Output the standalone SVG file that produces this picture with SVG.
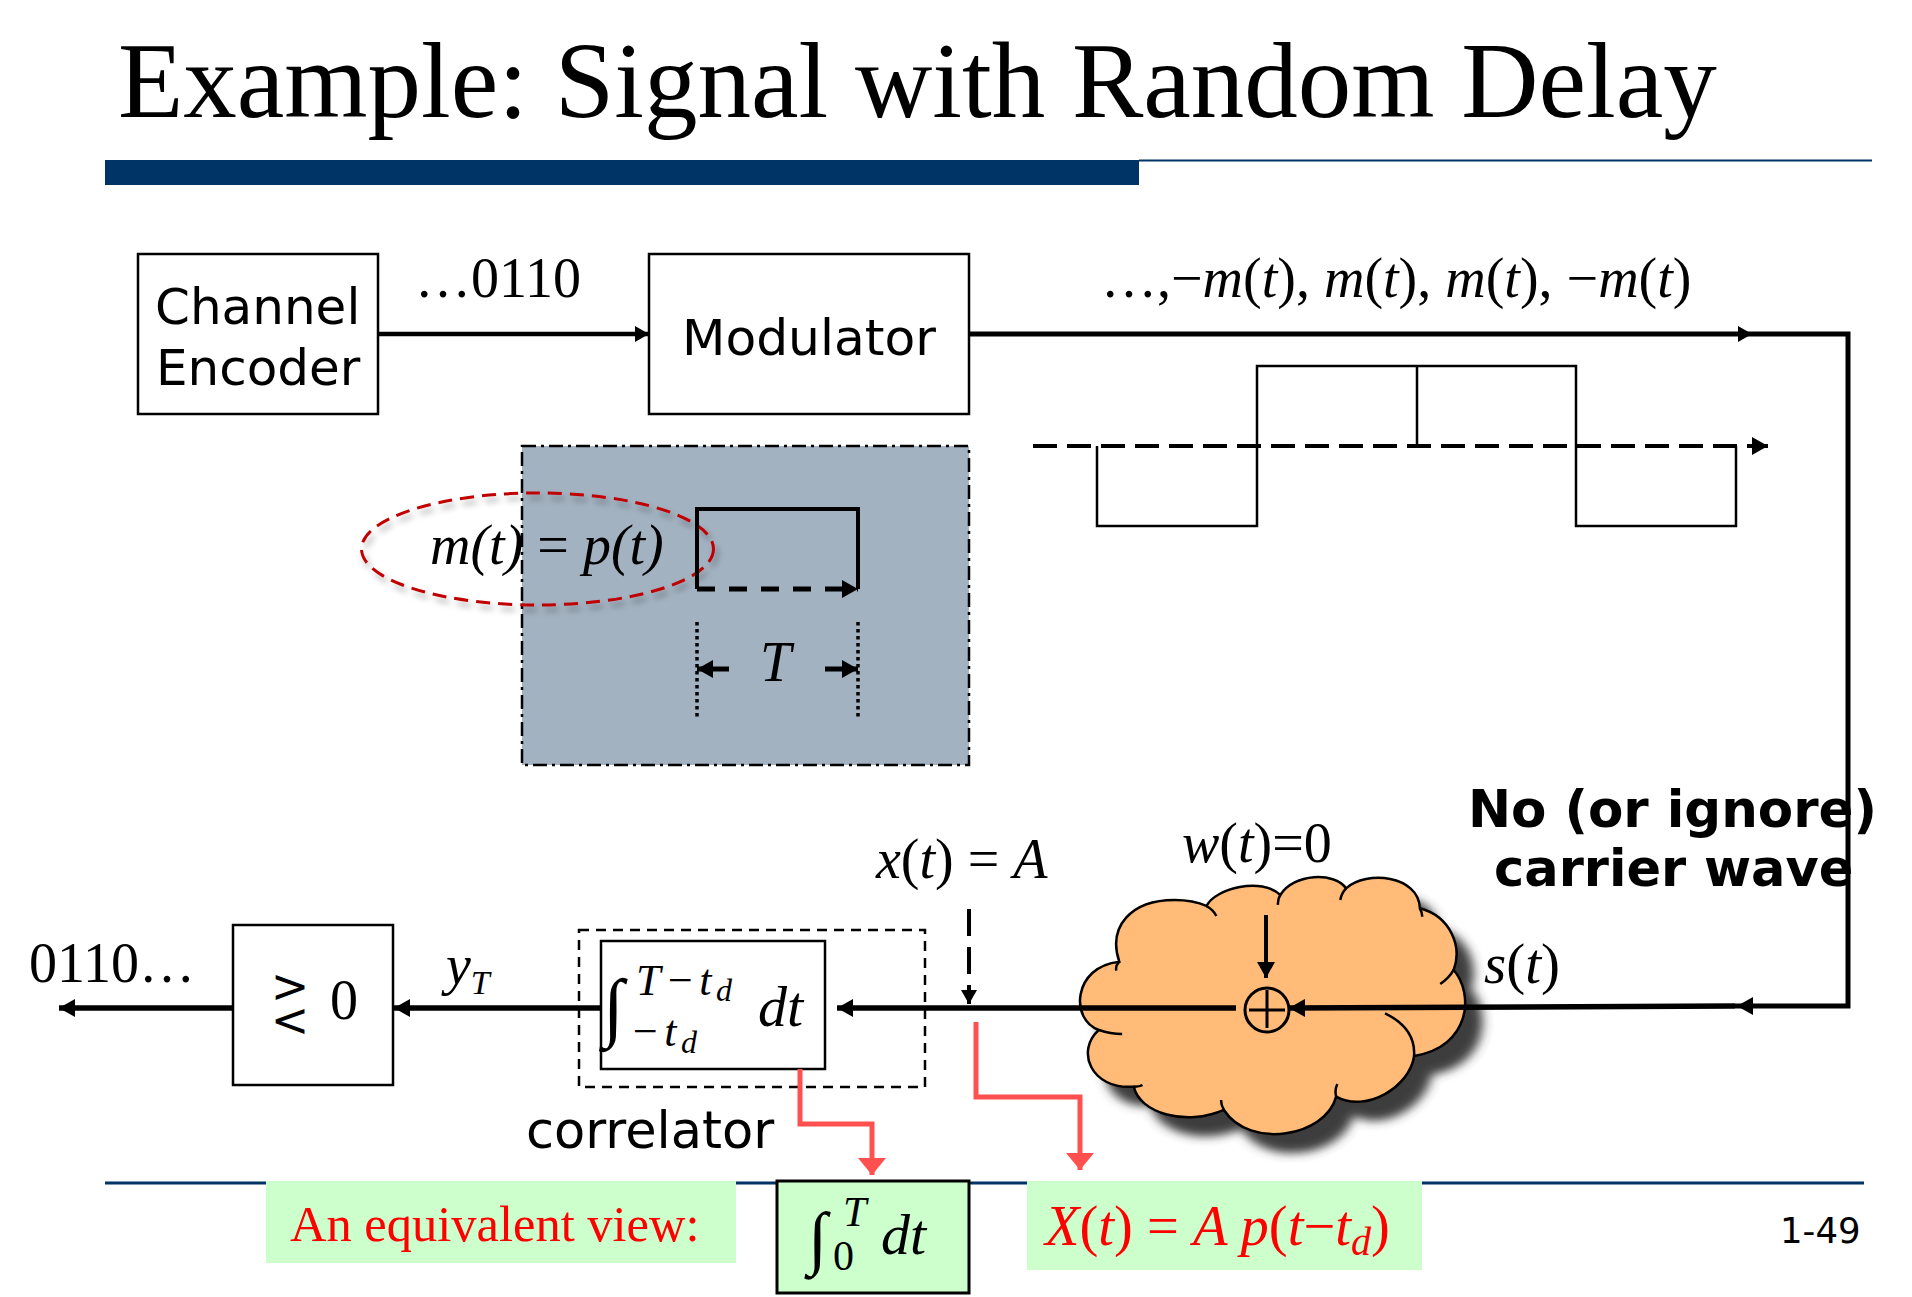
<svg xmlns="http://www.w3.org/2000/svg" width="1912" height="1297" viewBox="0 0 1912 1297">
<style>
text{fill:#000}
.s{font-family:"Liberation Serif","Times New Roman",serif;font-size:56px}
.d{font-family:"DejaVu Sans",Verdana,sans-serif;font-size:50px}
.b{font-family:"DejaVu Sans",Verdana,sans-serif;font-size:51.500px;font-weight:700}
.i{font-style:italic}
.box{fill:#fff;stroke:#000;stroke-width:2.5}
.l{fill:none;stroke:#000;stroke-width:4}
.r{fill:none;stroke:#ff5050;stroke-width:5}
.g{fill:#ccffcc}
.c{fill:none;stroke:#000;stroke-width:2.5;vector-effect:non-scaling-stroke}
</style>
<defs>
<marker id="a" markerUnits="userSpaceOnUse" viewBox="0 0 14 16" refX="14" refY="8" markerWidth="14" markerHeight="16" orient="auto-start-reverse"><path d="M0 0L14 8L0 16z" fill="#000"/></marker>
<marker id="a2" markerUnits="userSpaceOnUse" viewBox="0 0 16 18" refX="16" refY="9" markerWidth="16" markerHeight="18" orient="auto"><path d="M0 0L16 9L0 18z" fill="#000"/></marker>
<marker id="ar" markerUnits="userSpaceOnUse" viewBox="0 0 28 17" refX="14" refY="17" markerWidth="28" markerHeight="17" orient="0"><path d="M0 0H28L14 17z" fill="#ff5050"/></marker>
<filter id="sh" x="-20%" y="-20%" width="150%" height="150%"><feDropShadow dx="30" dy="57" stdDeviation="9 15" flood-color="#333" flood-opacity=".95"/></filter>
<filter id="es" x="-10%" y="-20%" width="120%" height="150%"><feDropShadow dx="3" dy="5" stdDeviation="3" flood-color="#000" flood-opacity=".35"/></filter>
</defs>

<g id="title-slide">
<text x="118" y="117" font-family="Liberation Serif,serif" font-size="107">Example: Signal with Random Delay</text>
<rect x="105" y="160" width="1034" height="25" fill="#003366"/>
<path d="M1139 160.500H1872" stroke="#003366" stroke-width="2"/>
<path d="M105 1183H1864" stroke="#003366" stroke-width="3"/>
<text x="1780" y="1243" class="d" style="font-size:35.500px">1-49</text>
</g>

<g id="signal-panel">
<rect x="522" y="446" width="447" height="319" fill="#a3b2c1" stroke="#000" stroke-width="2.500" stroke-dasharray="14 5 3 5"/>
<ellipse cx="537.500" cy="549" rx="176" ry="56" fill="none" stroke="#c00000" stroke-width="3" stroke-dasharray="14 8" filter="url(#es)"/>
<text x="430" y="564" class="s i">m(t)<tspan font-style="normal"> = </tspan>p(t)</text>
<path d="M697 589V509H858V589" class="l"/>
<path d="M697 589H858" fill="none" stroke="#000" stroke-width="5" stroke-dasharray="18 14" marker-end="url(#a2)"/>
<path d="M697 622V717M858 622V717" fill="none" stroke="#000" stroke-width="3.500" stroke-dasharray="3.500 3.500"/>
<path d="M729 669H697" class="l" style="stroke-width:5" marker-end="url(#a2)"/>
<path d="M825 669H858" class="l" style="stroke-width:5" marker-end="url(#a2)"/>
<text x="760" y="681" class="s i">T</text>
</g>

<g id="connectors">
<path d="M378 334H649" class="l" style="stroke-width:4.500" marker-end="url(#a)"/>
<path d="M969 334H1848V1006H1735" class="l" style="stroke-width:5"/>
<path d="M1740 334H1752" class="l" marker-end="url(#a)"/>
<path d="M1760 1006H1737" class="l" marker-end="url(#a2)"/>
<path d="M233 1008H59" class="l" style="stroke-width:5.500" marker-end="url(#a2)"/>
<path d="M601 1008H394" class="l" style="stroke-width:5.500" marker-end="url(#a2)"/>
</g>

<g id="waveform">
<path d="M1033 446H1768" fill="none" stroke="#000" stroke-width="4" stroke-dasharray="24 10" marker-end="url(#a2)"/>
<path d="M1097 446V526H1257V366H1576V526H1736V446M1417 366V446" fill="none" stroke="#000" stroke-width="2.500"/>
</g>

<g id="channel-encoder">
<rect x="138" y="254" width="240" height="160" class="box"/>
<text x="155" y="324" class="d">Channel</text>
<text x="156" y="385" class="d">Encoder</text>
</g>
<g id="modulator">
<rect x="649" y="254" width="320" height="160" class="box"/>
<text x="682" y="355" class="d" style="font-size:50.300px">Modulator</text>
</g>
<g id="labels">
<text x="415" y="297" class="s">…0110</text>
<text x="1101" y="297" class="s">…,−<tspan class="i">m</tspan>(<tspan class="i">t</tspan>), <tspan class="i">m</tspan>(<tspan class="i">t</tspan>), <tspan class="i">m</tspan>(<tspan class="i">t</tspan>), −<tspan class="i">m</tspan>(<tspan class="i">t</tspan>)</text>
<text x="29" y="982" class="s">0110…</text>
<text x="446" y="984" class="s i">y<tspan font-size="34" dy="10">T</tspan></text>
<text x="526" y="1148" class="d" style="font-size:51px">correlator</text>
<text x="876" y="878" class="s"><tspan class="i">x</tspan>(<tspan class="i">t</tspan>) = <tspan class="i">A</tspan></text>
<text x="1182" y="862" class="s"><tspan class="i">w</tspan>(<tspan class="i">t</tspan>)=0</text>
<text x="1484" y="983" class="s" style="font-size:57px"><tspan class="i">s</tspan>(<tspan class="i">t</tspan>)</text>
<text x="1468" y="827" class="b">No (or ignore)</text>
<text x="1494" y="886" class="b" style="font-size:51px">carrier wave</text>
</g>

<g id="noise-cloud">
<g transform="translate(1000 780) scale(.5816 .3333)">
<path filter="url(#sh)" d="M205 545C185 440 225 360 300 360C325 360 345 370 355 378C370 325 450 290 482 345C505 280 575 275 595 325C630 270 720 285 722 385C775 410 795 500 780 570C815 640 810 800 712 828C705 920 630 1000 578 950C560 1070 430 1110 385 990C320 1040 240 1000 230 920C155 930 130 810 170 750C120 720 125 560 205 545Z" fill="#ffbb77"/>
<path class="c" d="M205 545C185 440 225 360 300 360C325 360 345 370 355 378C370 325 450 290 482 345C505 280 575 275 595 325C630 270 720 285 722 385C775 410 795 500 780 570C815 640 810 800 712 828C705 920 630 1000 578 950C560 1070 430 1110 385 990C320 1040 240 1000 230 920C155 930 130 810 170 750C120 720 125 560 205 545Z"/>
<path class="c" d="M355 378Q367 390 372 408M482 345Q477 358 478 375M595 325Q587 340 585 360M722 385Q726 398 726 410M780 570Q772 595 757 612M662 700Q715 745 712 828M578 950Q575 930 580 912M385 990Q380 975 380 960M230 920Q240 920 245 915M170 750Q190 762 210 762M205 545Q198 558 200 572"/>
</g>
</g>

<g id="decision">
<rect x="233" y="925" width="160" height="160" class="box"/>
<text x="330" y="1019" class="s">0</text>
<text text-anchor="middle" font-family="DejaVu Sans,sans-serif" font-size="46"><tspan x="290" y="1002">&gt;</tspan><tspan x="290" y="1036">&lt;</tspan></text>
</g>

<g id="correlator">
<rect x="579" y="930" width="346" height="157" fill="none" stroke="#000" stroke-width="2.500" stroke-dasharray="10 7"/>
<rect x="601" y="941" width="224" height="128" class="box"/>
<text x="603" y="1032" font-family="Liberation Serif,serif" font-size="76" font-style="italic">∫</text>
<text x="636" y="995" class="s i" style="font-size:44px;letter-spacing:4.500px">T−t<tspan font-size="32" dy="6">d</tspan></text>
<text x="630" y="1046" class="s i" style="font-size:44px;letter-spacing:4.500px">−t<tspan font-size="32" dy="7">d</tspan></text>
<text x="758" y="1026" class="s i" style="font-size:58px">dt</text>
</g>

<g id="adder">
<path d="M1236 1008H837" class="l" style="stroke-width:5.500" marker-end="url(#a2)"/>
<path d="M1735 1006L1289 1008" class="l" style="stroke-width:5.500" marker-end="url(#a2)"/>
<path d="M1266 915V978" class="l" marker-end="url(#a2)"/>
<circle cx="1267" cy="1010" r="22" fill="none" stroke="#000" stroke-width="3"/>
<path d="M1267 990V1028M1249 1010H1285" fill="none" stroke="#000" stroke-width="3"/>
<path d="M969 909V1004" fill="none" stroke="#000" stroke-width="4" stroke-dasharray="27 11" marker-end="url(#a)"/>
</g>

<g id="equivalent-view">
<rect x="266" y="1181" width="470" height="82" class="g"/>
<text x="290" y="1241" class="s" style="font-size:50.500px;fill:#f00">An equivalent view:</text>
<rect x="777" y="1181" width="192" height="112" class="g" stroke="#000" stroke-width="3"/>
<text x="808" y="1261" font-family="Liberation Serif,serif" font-size="70" font-style="italic">∫</text>
<text x="843" y="1226" class="s i" style="font-size:42px">T</text>
<text x="833" y="1270" class="s" style="font-size:42px">0</text>
<text x="881" y="1254" class="s i" style="font-size:58px">dt</text>
<rect x="1027" y="1181" width="395" height="89" class="g"/>
<text x="1045" y="1245" class="s" style="fill:#f00;font-size:56.500px"><tspan class="i" style="fill:#f00">X</tspan>(<tspan class="i">t</tspan>) = <tspan class="i">A p</tspan>(<tspan class="i">t</tspan>−<tspan class="i">t<tspan font-size="40" dy="10">d</tspan></tspan><tspan dy="-10">)</tspan></text>
<path d="M800 1069V1124H872V1175" class="r" marker-end="url(#ar)"/>
<path d="M976 1022V1097H1080V1170" class="r" marker-end="url(#ar)"/>
</g>
</svg>
